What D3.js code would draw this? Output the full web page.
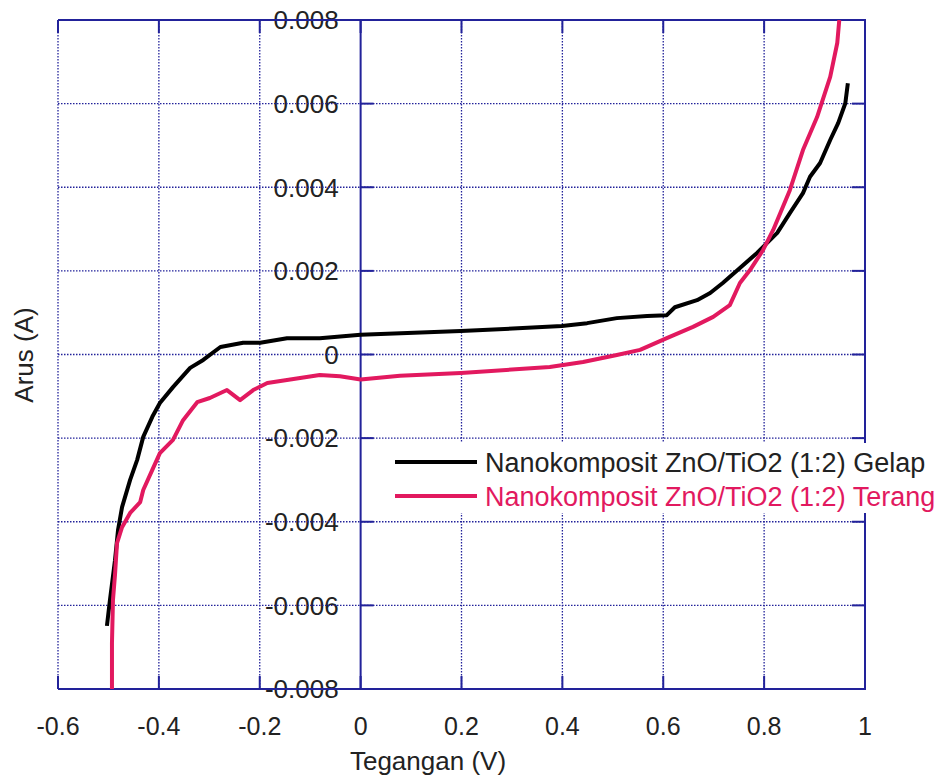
<!DOCTYPE html>
<html>
<head>
<meta charset="utf-8">
<script src="https://cdn.jsdelivr.net/npm/d3@7"></script>
<style>
  body { margin: 0; background: #fff; }
  text { font-family: "Liberation Sans", Arial, sans-serif; fill: #222; }
</style>
</head>
<body>
<svg id="chart" width="949" height="782"></svg>
<script>
// tick values
const xTicks = [-0.6, -0.4, -0.2, 0, 0.2, 0.4, 0.6, 0.8, 1]
const yTicks = [-0.008, -0.006, -0.004, -0.002, 0, 0.002, 0.004, 0.006, 0.008]

// dark (Gelap) series: voltage V, current in mA
const gelapV = [-0.503, -0.497, -0.487, -0.481, -0.473, -0.457, -0.443, -0.431, -0.413, -0.398, -0.372, -0.338, -0.312, -0.278, -0.233, -0.199, -0.146, -0.081, 0.0, 0.199, 0.399, 0.449, 0.508, 0.568, 0.607, 0.623, 0.667, 0.693, 0.718, 0.752, 0.786, 0.826, 0.851, 0.877, 0.891, 0.911, 0.931, 0.947, 0.961, 0.966]
const gelapI = [-6.49, -5.87, -4.92, -4.20, -3.65, -3.00, -2.52, -1.97, -1.49, -1.16, -0.78, -0.32, -0.13, 0.18, 0.28, 0.28, 0.39, 0.39, 0.47, 0.56, 0.68, 0.75, 0.87, 0.92, 0.94, 1.13, 1.30, 1.47, 1.71, 2.07, 2.43, 2.91, 3.38, 3.86, 4.25, 4.58, 5.13, 5.54, 6.01, 6.49]

// light (Terang) series
const terangV = [-0.493, -0.493, -0.491, -0.487, -0.483, -0.473, -0.457, -0.437, -0.431, -0.413, -0.398, -0.372, -0.352, -0.324, -0.299, -0.265, -0.239, -0.213, -0.185, -0.146, -0.081, -0.041, 0.0, 0.078, 0.199, 0.375, 0.441, 0.508, 0.554, 0.607, 0.659, 0.699, 0.732, 0.752, 0.772, 0.798, 0.818, 0.851, 0.877, 0.905, 0.931, 0.945, 0.949]
const terangI = [-8.00, -6.90, -5.87, -5.27, -4.51, -4.13, -3.79, -3.53, -3.24, -2.76, -2.36, -2.04, -1.57, -1.14, -1.04, -0.85, -1.09, -0.85, -0.68, -0.61, -0.49, -0.52, -0.60, -0.51, -0.44, -0.30, -0.18, -0.01, 0.11, 0.39, 0.66, 0.90, 1.18, 1.71, 2.02, 2.50, 2.98, 3.93, 4.89, 5.68, 6.64, 7.45, 8.00]

const seriesNames = ["Nanokomposit ZnO/TiO2 (1:2) Gelap", "Nanokomposit ZnO/TiO2 (1:2) Terang"]
const seriesColors = ["#000000", "#e2195f"]

const axisColor = "#22229a"
const plotLeft = 58, plotRight = 865, plotTop = 20, plotBottom = 689

const svg = d3.select("#chart")

const x = d3.scaleLinear().domain([-0.6, 1]).range([plotLeft, plotRight])
const y = d3.scaleLinear().domain([-0.008, 0.008]).range([plotBottom, plotTop])

// tick labels first, grid is drawn over them like the original
svg.append("g")
    .selectAll("text")
    .data(yTicks)
    .join("text")
    .attr("x", x(0) - 22)
    .attr("y", d => y(d))
    .attr("dy", "0.36em")
    .attr("text-anchor", "end")
    .style("font-size", "26px")
    .text(d => d === 0 ? "0" : d3.format(".3f")(d).replace("−", "-"))

svg.append("g")
    .selectAll("text")
    .data(xTicks)
    .join("text")
    .attr("x", d => x(d))
    .attr("y", 735)
    .attr("text-anchor", "middle")
    .style("font-size", "25px")
    .text(d => String(d))

// dotted grid
const grid = svg.append("g")
    .attr("stroke", axisColor)
    .attr("stroke-width", 1.3)
    .attr("stroke-dasharray", "1.5 1.5")

grid.selectAll("line.vx")
    .data(xTicks.filter(d => d !== 0 && d !== 1))
    .join("line")
    .attr("x1", d => x(d)).attr("x2", d => x(d))
    .attr("y1", plotTop).attr("y2", plotBottom)

grid.selectAll("line.hy")
    .data(yTicks.filter(d => Math.abs(d) !== 0.008))
    .join("line")
    .attr("x1", plotLeft).attr("x2", plotRight)
    .attr("y1", d => y(d)).attr("y2", d => y(d))

// solid frame and axis
const frame = svg.append("g")
    .attr("stroke", axisColor)
    .attr("stroke-width", 2)
    .attr("fill", "none")

frame.append("path")
    .attr("d", `M${plotLeft},${plotTop}H${plotRight}V${plotBottom}H${plotLeft}`)
frame.append("line")
    .attr("x1", x(0)).attr("x2", x(0))
    .attr("y1", plotTop).attr("y2", plotBottom)

// tick marks
const tickLen = 13
frame.selectAll("line.tt")
    .data(xTicks)
    .join("line")
    .attr("x1", d => x(d)).attr("x2", d => x(d))
    .attr("y1", plotTop).attr("y2", plotTop + tickLen)
frame.selectAll("line.tb")
    .data(xTicks)
    .join("line")
    .attr("x1", d => x(d)).attr("x2", d => x(d))
    .attr("y1", plotBottom).attr("y2", plotBottom - tickLen)
frame.selectAll("line.ta")
    .data(yTicks)
    .join("line")
    .attr("x1", x(0)).attr("x2", x(0) + tickLen)
    .attr("y1", d => y(d)).attr("y2", d => y(d))
frame.selectAll("line.tr")
    .data(yTicks)
    .join("line")
    .attr("x1", plotRight).attr("x2", plotRight - tickLen)
    .attr("y1", d => y(d)).attr("y2", d => y(d))

// curves
svg.append("defs").append("clipPath")
    .attr("id", "plotClip")
    .append("rect")
    .attr("x", plotLeft).attr("y", plotTop)
    .attr("width", plotRight - plotLeft).attr("height", plotBottom - plotTop)

const line = d3.line()
    .x(d => x(d[0]))
    .y(d => y(d[1] / 1000))

const seriesData = [
    d3.zip(gelapV, gelapI),
    d3.zip(terangV, terangI)
]

svg.append("g")
    .attr("clip-path", "url(#plotClip)")
    .selectAll("path")
    .data(seriesData)
    .join("path")
    .attr("d", line)
    .attr("fill", "none")
    .attr("stroke", (d, i) => seriesColors[i])
    .attr("stroke-width", 4)
    .attr("stroke-linejoin", "round")

// legend
const legend = svg.append("g").attr("transform", "translate(388,443)")
legend.append("rect")
    .attr("width", 561).attr("height", 70)
    .attr("fill", "#fff")

seriesNames.forEach((name, i) => {
    const ly = 19 + i * 34
    legend.append("line")
        .attr("x1", 7).attr("x2", 89)
        .attr("y1", ly).attr("y2", ly)
        .attr("stroke", seriesColors[i])
        .attr("stroke-width", 4)
    legend.append("text")
        .attr("x", 97)
        .attr("y", ly + 10)
        .style("font-size", "27px")
        .style("fill", i === 0 ? "#222" : seriesColors[i])
        .text(name)
})

// axis titles
svg.append("text")
    .attr("x", 428)
    .attr("y", 770)
    .attr("text-anchor", "middle")
    .style("font-size", "26px")
    .text("Tegangan (V)")

svg.append("text")
    .attr("transform", "translate(33,355) rotate(-90)")
    .attr("text-anchor", "middle")
    .style("font-size", "26px")
    .text("Arus (A)")
</script>
</body>
</html>
